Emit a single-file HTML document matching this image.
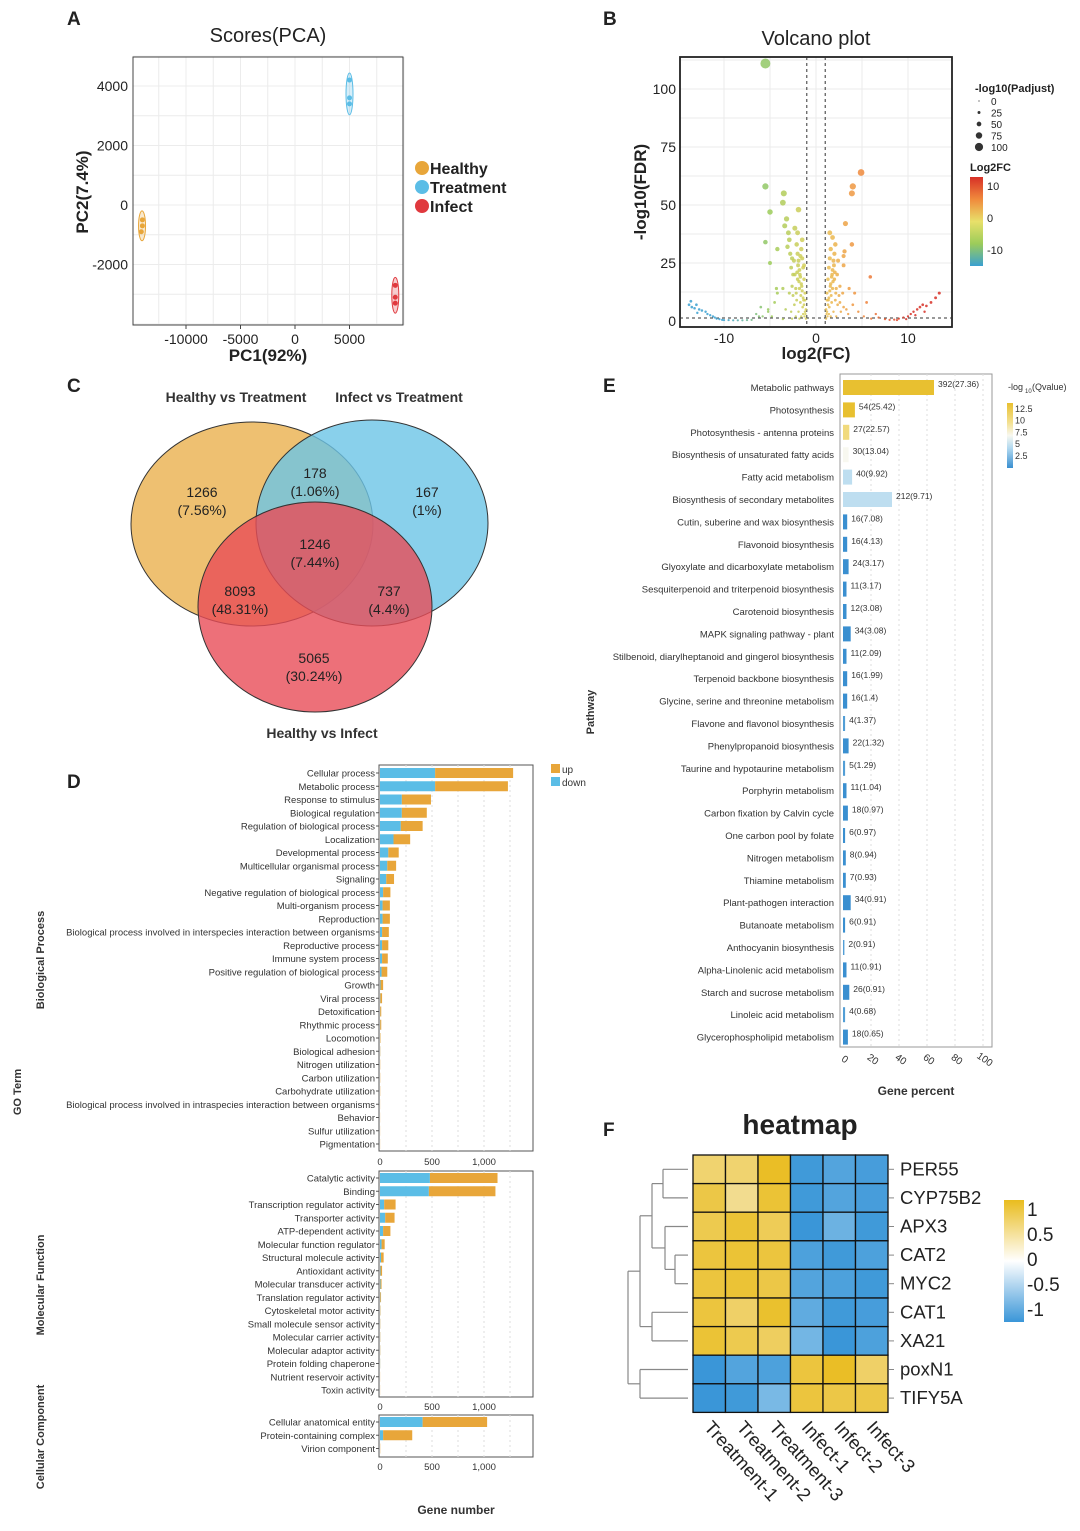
<!DOCTYPE html>
<html><head><meta charset="utf-8"><style>
html,body{margin:0;padding:0;background:#fff}
svg{display:block;font-family:"Liberation Sans",Arial,sans-serif}
</style></head><body>
<svg id="fig" width="1080" height="1531" viewBox="0 0 1080 1531" xmlns="http://www.w3.org/2000/svg">
<defs>
<linearGradient id="volcGrad" x1="0" y1="0" x2="0" y2="1"><stop offset="0" stop-color="#d73027"/><stop offset="0.25" stop-color="#f08a3c"/><stop offset="0.5" stop-color="#e8e06a"/><stop offset="0.75" stop-color="#9ccc5a"/><stop offset="1" stop-color="#3aa0d0"/></linearGradient>
<linearGradient id="eGrad" x1="0" y1="0" x2="0" y2="1"><stop offset="0" stop-color="#e8c030"/><stop offset="0.3" stop-color="#f3e090"/><stop offset="0.5" stop-color="#f8f8f0"/><stop offset="0.7" stop-color="#b0d8f0"/><stop offset="1" stop-color="#3a8fd0"/></linearGradient>
<linearGradient id="hGrad" x1="0" y1="0" x2="0" y2="1"><stop offset="0" stop-color="#e9bc1e"/><stop offset="0.5" stop-color="#ffffff"/><stop offset="1" stop-color="#3a96d8"/></linearGradient>
</defs>
</svg>
<script>
// ---------- DATA ----------
const pcaGroups=["Healthy","Treatment","Infect"];
const pcaColors=["#e8a63a","#5bbde6","#e0393e"];
const pcaX=[-14000,-14000,-14100,5000,5000,5000,9200,9200,9200];
const pcaY=[-500,-700,-900,4200,3600,3400,-2700,-3100,-3300];
const pcaG=[0,0,0,1,1,1,2,2,2];
const pcaXTicks=[-10000,-5000,0,5000];
const pcaYTicks=[-2000,0,2000,4000];

const volcFC=[
-13.8,-13.5,-13.2,-13,-12.7,-12.4,-12,-11.8,-11.5,-11.2,-11,-10.8,-10.5,-10.2,-10,-9.5,-9,-8.5,-8,-7.5,-7,-13.6,-12.9,
-6.5,-6,-5.8,-5.2,-4.8,-4.5,-4.3,
-1.1,-1.2,-1.3,-1.4,-1.5,-1.6,-1.7,-1.8,-1.9,-2.0,-2.1,-1.2,-1.3,-1.4,-1.5,-1.6,-1.7,-1.8,-1.9,-2.0,-2.1,-2.2,-2.3,-2.4,-2.5,-2.6,-2.7,-2.9,-3.3,-3.6,-4.2,-5.2,-6.2,-1.1,-1.2,-1.4,-1.6,-1.8,-2.2,-2.6,-3.6,-1.3,-1.5,-1.7,-2.0,-2.3,-1.9,-1.25,-1.45,-1.65,-1.85,-2.05,-1.15,-1.35,-1.55,-1.75,-1.95,-2.15,-2.35,
-5.5,-5.5,-3.5,-3.6,-5,-3.2,-3.4,-5.5,-4.2,-5,-3,-2.9,-3.1,-2.8,-2.6,-2.7,-2.5,
1.1,1.2,1.3,1.4,1.5,1.6,1.7,1.8,1.9,2.0,2.1,1.2,1.3,1.4,1.5,1.6,1.7,1.8,1.9,2.0,2.1,2.2,2.3,2.4,2.5,2.6,2.7,2.9,3.3,3.6,4.2,1.1,1.2,1.4,1.6,2.2,2.6,3,3.5,4,4.6,5.2,5.9,5.5,6.5,3.0,3.0,3.1,3.9,3.2,3.9,4.0,4.9,1.5,1.8,1.25,1.45,1.65,1.85,2.05,1.15,1.35,1.55,1.75,1.95,2.15,2.35,
6,6.8,7.5,8,8.5,9,9.5,10,10.3,10.6,11,11.3,11.6,12,12.5,13,13.4,10.8,11.8,9.8,8.8];
const volcP=[
7,6,5.5,7,5,4.5,4,3,2.5,2,1.5,1,0.8,0.5,0.4,0.4,0.3,0.3,0.3,0.4,0.5,8.5,3.5,
3,6,2,5,2,8,14,
1,4,7,10,13,16,19,22,26,29,33,12,18,23,27,31,8,14,4,18,9,14,20,26,11,15,4,12,5,14,12,4,2,5,9,3,2,1,2,1,0.8,24,35,28,38,40,48,2,6,11,17,21,3,9,15,20,24,12,7,
111,58,55,51,47,44,41,34,31,25,38,35,32,29,27,23,20,
1,4,7,10,13,16,19,22,26,29,33,12,18,23,27,31,8,14,4,18,9,14,20,26,11,15,4,12,5,14,12,5,9,3,2,2,8,6,3,7,4,2,19,8,3,24,28,30,33,42,55,58,64,38,36,2,6,11,17,21,3,9,15,20,24,12,7,
1,1.5,0.8,0.5,0.6,1,1.5,2,3,4,5,6,7,6.5,8,10,12,2.5,4,0.8,0.4];
const volcXTicks=[-10,0,10];
const volcYTicks=[0,25,50,75,100];
const sizeLegend=[0,25,50,75,100];

const vennSets=["Healthy vs Treatment","Infect vs Treatment","Healthy vs Infect"];
const vennCounts=["1266","178","167","1246","8093","737","5065"];
const vennPcts=["(7.56%)","(1.06%)","(1%)","(7.44%)","(48.31%)","(4.4%)","(30.24%)"];

const bpTerms=["Cellular process","Metabolic process","Response to stimulus","Biological regulation","Regulation of biological process","Localization","Developmental process","Multicellular organismal process","Signaling","Negative regulation of biological process","Multi-organism process","Reproduction","Biological process involved in interspecies interaction between organisms","Reproductive process","Immune system process","Positive regulation of biological process","Growth","Viral process","Detoxification","Rhythmic process","Locomotion","Biological adhesion","Nitrogen utilization","Carbon utilization","Carbohydrate utilization","Biological process involved in intraspecies interaction between organisms","Behavior","Sulfur utilization","Pigmentation"];
const bpDown=[530,530,210,210,200,130,80,70,60,30,25,25,20,20,20,15,5,3,2,2,1,1,0,0,0,0,0,0,0];
const bpUp=[750,700,280,240,210,160,100,85,75,70,70,70,65,60,55,55,25,17,10,10,4,2,2,2,2,1,1,1,1];
const mfTerms=["Catalytic activity","Binding","Transcription regulator activity","Transporter activity","ATP-dependent activity","Molecular function regulator","Structural molecule activity","Antioxidant activity","Molecular transducer activity","Translation regulator activity","Cytoskeletal motor activity","Small molecule sensor activity","Molecular carrier activity","Molecular adaptor activity","Protein folding chaperone","Nutrient reservoir activity","Toxin activity"];
const mfDown=[480,470,40,50,30,15,10,5,5,3,2,1,1,1,1,0,0];
const mfUp=[650,640,110,90,70,30,25,15,10,7,3,2,2,2,1,1,1];
const ccTerms=["Cellular anatomical entity","Protein-containing complex","Virion component"];
const ccDown=[410,30,0];
const ccUp=[620,280,2];
const goTicks=[0,500,1000];
const goTickLabels=["0","500","1,000"];

const kegTerms=["Metabolic pathways","Photosynthesis","Photosynthesis - antenna proteins","Biosynthesis of unsaturated fatty acids","Fatty acid metabolism","Biosynthesis of secondary metabolites","Cutin, suberine and wax biosynthesis","Flavonoid biosynthesis","Glyoxylate and dicarboxylate metabolism","Sesquiterpenoid and triterpenoid biosynthesis","Carotenoid biosynthesis","MAPK signaling pathway - plant","Stilbenoid, diarylheptanoid and gingerol biosynthesis","Terpenoid backbone biosynthesis","Glycine, serine and threonine metabolism","Flavone and flavonol biosynthesis","Phenylpropanoid biosynthesis","Taurine and hypotaurine metabolism","Porphyrin metabolism","Carbon fixation by Calvin cycle","One carbon pool by folate","Nitrogen metabolism","Thiamine metabolism","Plant-pathogen interaction","Butanoate metabolism","Anthocyanin biosynthesis","Alpha-Linolenic acid metabolism","Starch and sucrose metabolism","Linoleic acid metabolism","Glycerophospholipid metabolism"];
const kegCount=[392,54,27,30,40,212,16,16,24,11,12,34,11,16,16,4,22,5,11,18,6,8,7,34,6,2,11,26,4,18];
const kegQ=[27.36,25.42,22.57,13.04,9.92,9.71,7.08,4.13,3.17,3.17,3.08,3.08,2.09,1.99,1.4,1.37,1.32,1.29,1.04,0.97,0.97,0.94,0.93,0.91,0.91,0.91,0.91,0.91,0.68,0.65];
const kegPct=[65,8.5,4.5,4,6.5,35,3,3,4,2.5,2.5,5.5,2.5,3,3,1.5,4,1.5,2.5,3.5,1.5,2,2,5.5,1.5,1,2.5,4.5,1.5,3.5];
const kegColorVal=[13,12.5,10.5,7.5,5.5,5.5,2.5,2.5,2.5,2.5,2.5,2.5,2.5,2.5,2.5,3,2.5,3,2.5,2.5,2.5,2.5,2.5,2.5,2.5,3,2.5,2.5,3,2.5];
const kegTicks=[0,20,40,60,80,100];
const kegLegend=[12.5,10,7.5,5,2.5];

const hmGenes=["PER55","CYP75B2","APX3","CAT2","MYC2","CAT1","XA21","poxN1","TIFY5A"];
const hmSamples=["Treatment-1","Treatment-2","Treatment-3","Infect-1","Infect-2","Infect-3"];
const hmValues=[
[0.5,0.5,0.95,-0.95,-0.8,-0.9],
[0.75,0.3,0.85,-0.95,-0.8,-0.9],
[0.7,0.85,0.65,-1,-0.6,-0.95],
[0.8,0.85,0.8,-0.85,-0.95,-0.85],
[0.8,0.85,0.75,-0.8,-0.85,-0.95],
[0.8,0.55,0.9,-0.7,-0.95,-0.9],
[0.85,0.7,0.6,-0.55,-1,-0.85],
[-1,-0.8,-0.85,0.8,0.95,0.55],
[-1,-0.95,-0.5,0.8,0.75,0.75]];
const hmLegendTicks=[1,0.5,0,-0.5,-1];

// ---------- HELPERS ----------
const NS="http://www.w3.org/2000/svg";
const svg=document.getElementById('fig');
function mk(tag,at,parent){const e=document.createElementNS(NS,tag);for(const k in at)e.setAttribute(k,at[k]);(parent||svg).appendChild(e);return e;}
function txt(s,x,y,size,opt){opt=opt||{};const e=mk('text',{x:x,y:y,'font-size':size,fill:opt.fill||'#222','text-anchor':opt.anchor||'start','font-weight':opt.bold?'bold':'normal'});if(opt.rot)e.setAttribute('transform','rotate('+opt.rot+' '+x+' '+y+')');e.textContent=s;return e;}
function lerpHex(a,b,t){const pa=[1,3,5].map(i=>parseInt(a.substr(i,2),16)),pb=[1,3,5].map(i=>parseInt(b.substr(i,2),16));return 'rgb('+pa.map((v,i)=>Math.round(v+(pb[i]-v)*t)).join(',')+')';}
function scaleColor(v,stops,cols){if(v>=stops[0])return cols[0];if(v<=stops[stops.length-1])return cols[cols.length-1];for(let i=0;i<stops.length-1;i++){if(v<=stops[i]&&v>=stops[i+1])return lerpHex(cols[i],cols[i+1],(stops[i]-v)/(stops[i]-stops[i+1]));}return cols[0];}

// panel letters
[["A",67,25],["B",603,25],["C",67,392],["D",67,788],["E",603,392],["F",603,1136]].forEach(p=>{
const t=txt(p[0],p[1],p[2],19,{bold:true});


});

// ---------- PANEL A: PCA ----------
(function(){
const L=133,R=403,T=57,B=325;
const px=v=>295+v*0.0109, py=v=>205-v*0.02975;
const t=txt("Scores(PCA)",268,42,20,{anchor:'middle'});


for(let v=-12500;v<=10000;v+=2500){const l=mk('line',{x1:px(v),x2:px(v),y1:T,y2:B,stroke:'#ececec'});

}
for(let v=-4000;v<=5000;v+=1000){const l=mk('line',{x1:L,x2:R,y1:py(v),y2:py(v),stroke:'#ececec'});

}
const box=mk('rect',{x:L,y:T,width:R-L,height:B-T,fill:'none',stroke:'#444'});


pcaXTicks.forEach(v=>{const e=txt(String(v),px(v),344,14,{anchor:'middle'});


const k=mk('line',{x1:px(v),x2:px(v),y1:B,y2:B+4,stroke:'#444'});

});
pcaYTicks.forEach(v=>{const e=txt(String(v),128,py(v)+5,14,{anchor:'end'});

});
const xl=txt("PC1(92%)",268,361,17,{anchor:'middle',bold:true});


const yl=txt("PC2(7.4%)",88,192,17,{anchor:'middle',bold:true,rot:-90});


pcaGroups.forEach((g,gi)=>{const xs=[],ys=[];pcaG.forEach((gg,i)=>{if(gg===gi){xs.push(px(pcaX[i]));ys.push(py(pcaY[i]));}});
const cx=xs.reduce((a,b)=>a+b)/xs.length,cy=ys.reduce((a,b)=>a+b)/ys.length;const ry=(Math.max(...ys)-Math.min(...ys))/2+9;
const el=mk('ellipse',{cx:cx,cy:cy,rx:3.5,ry:ry,fill:pcaColors[gi],'fill-opacity':0.25,stroke:pcaColors[gi]});

});
pcaX.forEach((v,i)=>{const c=mk('circle',{cx:px(v),cy:py(pcaY[i]),r:2.5,fill:pcaColors[pcaG[i]]});

});
pcaGroups.forEach((g,i)=>{const c=mk('circle',{cx:422,cy:168+i*19,r:7,fill:pcaColors[i]});


const e=txt(g,430,174+i*19,16,{bold:true});

});
})();

// ---------- PANEL B: Volcano ----------
(function(){
const L=680,R=952,T=57,B=327;
const px=v=>816+v*9.2, py=v=>321-v*2.32;
const t=txt("Volcano plot",816,45,20,{anchor:'middle'});


for(let v=-10;v<=10;v+=5){const l=mk('line',{x1:px(v),x2:px(v),y1:T,y2:B,stroke:'#ebebeb'});

}
for(let v=12.5;v<=112.5;v+=12.5){const l=mk('line',{x1:L,x2:R,y1:py(v),y2:py(v),stroke:'#ebebeb'});

}
const box=mk('rect',{x:L,y:T,width:R-L,height:B-T,fill:'none',stroke:'#222','stroke-width':1.8});


[-1,1].forEach(v=>{const l=mk('line',{x1:px(v),x2:px(v),y1:T,y2:B,stroke:'#333','stroke-dasharray':'3,3'});

});
const h=mk('line',{x1:L,x2:R,y1:py(1.3),y2:py(1.3),stroke:'#333','stroke-dasharray':'3,3'});


const stops=[10,5,0,-5,-10],cols=["#d73027","#f08a3c","#e8d05a","#9ccc5a","#3aa0d0"];
volcFC.forEach((v,i)=>{const c=mk('circle',{cx:px(v),cy:py(volcP[i]),r:1.1+volcP[i]*0.035,fill:scaleColor(v,stops,cols),'fill-opacity':0.85});

});
volcXTicks.forEach(v=>{const e=txt(String(v),px(v),343,14,{anchor:'middle'});

});
volcYTicks.forEach(v=>{const e=txt(String(v),676,py(v)+5,14,{anchor:'end'});

});
const xl=txt("log2(FC)",816,359,17,{anchor:'middle',bold:true});


const yl=txt("-log10(FDR)",646,192,17,{anchor:'middle',bold:true,rot:-90});


const lt=txt("-log10(Padjust)",975,92,11,{bold:true});


sizeLegend.forEach((v,i)=>{const y=101+i*11.5;const c=mk('circle',{cx:979,cy:y,r:0.6+v*0.035,fill:'#333'});


const e=txt(String(v),991,y+4,10);

});
const ct=txt("Log2FC",970,171,11,{bold:true});


const cb=mk('rect',{x:970,y:177,width:13,height:89,fill:'url(#volcGrad)'});


[[10,190],[0,222],[-10,254]].forEach(p=>{const e=txt(String(p[0]),987,p[1],11);

});
})();

// ---------- PANEL C: Venn ----------
(function(){
const ell=[[252,524,121,102,"#eab04e"],[372,523,116,103,"#6cc4e6"],[315,607,117,105,"#e84c58"]];
ell.forEach((c,i)=>{const e=mk('ellipse',{cx:c[0],cy:c[1],rx:c[2],ry:c[3],fill:c[4],'fill-opacity':0.8,stroke:'#333','stroke-width':1});

});
[[236,402],[399,402],[322,738]].forEach((p,i)=>{const e=txt(vennSets[i],p[0],p[1],14,{anchor:'middle',bold:true,fill:'#333'});

});
const pos=[[202,497],[315,478],[427,497],[315,549],[240,596],[389,596],[314,663]];
pos.forEach((p,i)=>{const a=txt(vennCounts[i],p[0],p[1],14,{anchor:'middle'});


const b=txt(vennPcts[i],p[0],p[1]+18,14,{anchor:'middle'});

});
})();

// ---------- PANEL D: GO ----------
(function(){
const x0=380,k=0.104,cDown="#5bbde6",cUp="#e8a63a";
function block(terms,down,up,top,bottom,firstY,tickY,name){
const box=mk('rect',{x:379,y:top,width:154,height:bottom-top,fill:'none',stroke:'#555'});


for(let v=250;v<=1250;v+=250){const l=mk('line',{x1:x0+v*k,x2:x0+v*k,y1:top,y2:bottom,stroke:'#ddd','stroke-dasharray':'2,3'});

}
terms.forEach((t,i)=>{const y=firstY+i*13.25;
const d=mk('rect',{x:x0,y:y-5,width:down[i]*k,height:10,fill:cDown});


const u=mk('rect',{x:x0+down[i]*k,y:y-5,width:up[i]*k,height:10,fill:cUp});


const e=txt(t,375,y+3.5,9.5,{anchor:'end',fill:'#333'});


const m=mk('line',{x1:376,x2:379,y1:y,y2:y,stroke:'#555'});

});
goTicks.forEach((v,i)=>{const e=txt(goTickLabels[i],x0+v*k,tickY,9.5,{anchor:'middle',fill:'#333'});

});
}
block(bpTerms,bpDown,bpUp,765,1151,773,1165,'bp');
block(mfTerms,mfDown,mfUp,1171,1397,1178,1410,'mf');
block(ccTerms,ccDown,ccUp,1415,1457,1422,1470,'cc');
[["up",cUp,769],["down",cDown,782]].forEach(p=>{const r=mk('rect',{x:551,y:p[2]-5,width:9,height:9,fill:p[1]});


const e=txt(p[0],562,p[2]+4,10,{fill:'#333'});

});
[["Biological Process",44,960],["GO Term",21,1092],["Molecular Function",44,1285],["Cellular Component",44,1437]].forEach(p=>{
const e=txt(p[0],p[1],p[2],11,{anchor:'middle',bold:true,rot:-90,fill:'#333'});

});
const xt=txt("Gene number",456,1514,12,{anchor:'middle',bold:true,fill:'#333'});


})();

// ---------- PANEL E: KEGG ----------
(function(){
const x0=843,k=1.4,top=374,bot=1047;
const box=mk('rect',{x:840,y:top,width:152,height:bot-top,fill:'none',stroke:'#999'});


kegTicks.forEach(v=>{if(v>0){const l=mk('line',{x1:x0+v*k,x2:x0+v*k,y1:top,y2:bot,stroke:'#ddd','stroke-dasharray':'2,3'});

}
const e=txt(String(v),x0+v*k,1062,10,{anchor:'middle',rot:35,fill:'#333'});

});
const stops=[12.5,10,7.5,5,2.5],cols=["#e8c030","#f3e090","#f8f8f0","#b0d8f0","#3a8fd0"];
kegTerms.forEach((t,i)=>{const y=387+i*22.4;const w=kegPct[i]*k;
const r=mk('rect',{x:x0,y:y-7,width:w,height:15,fill:scaleColor(kegColorVal[i],stops,cols)});


const e=txt(t,834,y+4,9.5,{anchor:'end',fill:'#333'});


const v=txt(kegCount[i]+"("+kegQ[i]+")",x0+w+4,y,8.5,{fill:'#333'});

});
const lt=txt("-log",1008,390,9,{fill:'#333'});


const lt2=txt("10",1025,393,6,{fill:'#333'});


const lt3=txt("(Qvalue)",1032,390,9,{fill:'#333'});


const cb=mk('rect',{x:1007,y:403,width:6,height:65,fill:'url(#eGrad)'});


kegLegend.forEach((v,i)=>{const e=txt(String(v),1015,412+i*11.7,9,{fill:'#333'});

});
const yl=txt("Pathway",594,712,11,{anchor:'middle',bold:true,rot:-90,fill:'#333'});


const xl=txt("Gene percent",916,1095,12,{anchor:'middle',bold:true,fill:'#333'});


})();

// ---------- PANEL F: Heatmap ----------
(function(){
const L=693,T=1155,cw=32.5,ch=28.6;
const t=txt("heatmap",800,1134,28,{anchor:'middle',bold:true});


hmValues.forEach((row,r)=>row.forEach((v,c)=>{
const col=v>0?lerpHex("#f6e9c0","#e9bc1e",Math.min(1,v)):lerpHex("#b8dcf2","#3a96d8",Math.min(1,-v));
const e=mk('rect',{x:L+c*cw,y:T+r*ch,width:cw,height:ch,fill:col,stroke:'#111','stroke-width':1.3});

}));
hmGenes.forEach((g,i)=>{const y=T+i*ch+ch/2;
const e=txt(g,900,y+6,18.5,{fill:'#222'});


const m=mk('line',{x1:889,x2:894,y1:y,y2:y,stroke:'#888'});

});
hmSamples.forEach((s,i)=>{const x=L+i*cw+cw/2-6;
const e=txt(s,x,1428,18.5,{rot:48,fill:'#222'});

});
const yc=i=>T+i*ch+ch/2;
const leafX=L-5;
function arm(x1,y,x2){const l=mk('line',{x1:x1,x2:x2,y1:y,y2:y,stroke:'#888','stroke-width':1.2});

}
function vert(x,y1,y2){const l=mk('line',{x1:x,x2:x,y1:y1,y2:y2,stroke:'#888','stroke-width':1.2});

}
[[0,663],[1,663],[3,675],[4,675],[2,665],[5,652],[6,652],[7,640],[8,640]].forEach(p=>arm(p[1],yc(p[0]),leafX));
vert(663,yc(0),yc(1));vert(675,yc(3),yc(4));arm(665,(yc(3)+yc(4))/2,675);vert(665,yc(2),(yc(3)+yc(4))/2);
const mA=(yc(0)+yc(1))/2,mB=(yc(2)+(yc(3)+yc(4))/2)/2;arm(652,mA,663);arm(652,mB,665);vert(652,mA,mB);
vert(652,yc(5),yc(6));
const m1=(mA+mB)/2,m2=(yc(5)+yc(6))/2;arm(640,m1,652);arm(640,m2,652);vert(640,m1,m2);
vert(640,yc(7),yc(8));
const m3=(m1+m2)/2,m4=(yc(7)+yc(8))/2;arm(628,m3,640);arm(628,m4,640);vert(628,m3,m4);
const cb=mk('rect',{x:1004,y:1200,width:20,height:122,fill:'url(#hGrad)'});


hmLegendTicks.forEach(v=>{const y=1258-v*50;
const e=txt(String(v),1027,y+8,19,{fill:'#222'});

});
})();
</script>
</body></html>
